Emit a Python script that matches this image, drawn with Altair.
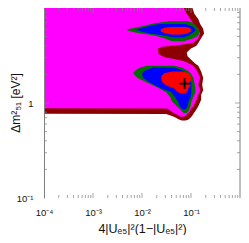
import altair as alt
import pandas as pd

# ---- contour regions: for each y level, left/right x bounds ----
# dark red (outermost)
dr_y = [10, 8.71, 7.60, 6.77, 6.04, 5.39, 4.81, 4.29, 4.00, 3.73, 3.41, 3.11, 2.84, 2.59,
        2.47, 2.15, 1.84, 1.56, 1.36, 1.22, 1.08, 0.923, 0.823, 0.77, 0.765, 0.718, 0.670, 0.655]
dr_xl = [1e-4] * 24 + [0.031, 0.045, 0.057, 0.065]
dr_xr = [0.107, 0.117, 0.141, 0.154, 0.177, 0.185, 0.161, 0.141, 0.129, 0.098, 0.082, 0.085,
         0.102, 0.123, 0.141, 0.161, 0.177, 0.169, 0.177, 0.161, 0.161, 0.141, 0.123, 0.112,
         0.112, 0.102, 0.089, 0.078]

# magenta
mg_y = [10, 8.71, 7.60, 6.77, 6.04, 5.39, 4.81, 4.29, 4.09, 3.91, 3.73, 3.25, 3.04, 2.90,
        2.77, 2.59, 2.47, 2.15, 1.84, 1.56, 1.36, 1.22, 1.08, 0.923, 0.881, 0.875, 0.804,
        0.752, 0.718]
mg_xl = [1e-4] * 25 + [0.033, 0.041, 0.052, 0.062]
mg_xr = [0.071, 0.082, 0.098, 0.112, 0.141, 0.154, 0.141, 0.112, 0.057, 0.026, 0.021, 0.022,
         0.029, 0.045, 0.071, 0.093, 0.112, 0.135, 0.154, 0.141, 0.154, 0.141, 0.129, 0.112,
         0.102, 0.102, 0.093, 0.082, 0.071]

# green islands
gu_y = [7.26, 6.93, 6.47, 6.04, 5.90, 5.77, 5.51, 5.14, 4.81, 4.48]
gu_xl = [0.036, 0.018, 0.0105, 0.0058, 0.0048, 0.0053, 0.0073, 0.018, 0.0285, 0.041]
gu_xr = [0.089, 0.112, 0.129, 0.141, 0.145, 0.147, 0.147, 0.141, 0.112, 0.071]
gl_y = [2.47, 2.36, 2.20, 2.06, 1.84, 1.64, 1.46, 1.30, 1.16, 1.035, 0.923, 0.823, 0.787]
gl_xl = [0.0126, 0.0091, 0.0073, 0.0066, 0.0080, 0.0126, 0.0207, 0.0313, 0.0375, 0.0411,
         0.0516, 0.0649, 0.071]
gl_xr = [0.045, 0.065, 0.085, 0.098, 0.112, 0.117, 0.123, 0.123, 0.112, 0.102, 0.098, 0.089,
         0.082]

# blue islands
bu_y = [6.77, 6.47, 6.18, 5.90, 5.64, 5.39, 5.14, 4.92]
bu_xl = [0.0227, 0.0144, 0.0105, 0.0073, 0.0100, 0.0144, 0.0285, 0.045]
bu_xr = [0.078, 0.102, 0.117, 0.123, 0.117, 0.102, 0.089, 0.071]
bl_y = [2.36, 2.20, 2.06, 1.84, 1.64, 1.46, 1.30, 1.16, 1.035, 0.923, 0.861]
bl_xl = [0.0165, 0.0115, 0.0100, 0.0105, 0.0144, 0.0227, 0.0393, 0.0471, 0.0541, 0.0592, 0.0679]
bl_xr = [0.045, 0.068, 0.082, 0.098, 0.102, 0.102, 0.102, 0.098, 0.089, 0.085, 0.078]

# red islands
ru_y = [6.32, 6.18, 5.90, 5.64, 5.39, 5.26]
ru_xl = [0.041, 0.0285, 0.0238, 0.0249, 0.0313, 0.041]
ru_xr = [0.078, 0.093, 0.102, 0.098, 0.082, 0.065]
rl_y = [2.15, 2.06, 1.92, 1.75, 1.64, 1.53, 1.43, 1.33, 1.27]
rl_xl = [0.041, 0.0285, 0.0249, 0.0249, 0.0261, 0.0313, 0.045, 0.0516, 0.0592]
rl_xr = [0.071, 0.089, 0.098, 0.102, 0.093, 0.098, 0.089, 0.085, 0.078]

# best fit point
best_x = [0.074]
best_y = [1.6]

# tick positions
minor_mult = [2, 3, 4, 5, 6, 7, 8, 9]
x_decades = [1e-4, 1e-3, 1e-2, 1e-1]
y_decades = [0.1, 1]
x_major = [1e-3, 1e-2, 1e-1]
y_major = [1]
x_label_values = [1e-4, 1e-3, 1e-2, 1e-1]
y_label_values = [0.1, 1]

Y_TITLE = "Δm²₅₁   [eV²]"
X_TITLE = "4|Uₑ₅|²(1−|Uₑ₅|²)"

regions = [
    ("darkred", "main", dr_y, dr_xl, dr_xr),
    ("magenta", "main", mg_y, mg_xl, mg_xr),
    ("green", "upper", gu_y, gu_xl, gu_xr),
    ("green", "lower", gl_y, gl_xl, gl_xr),
    ("blue", "upper", bu_y, bu_xl, bu_xr),
    ("blue", "lower", bl_y, bl_xl, bl_xr),
    ("red", "upper", ru_y, ru_xl, ru_xr),
    ("red", "lower", rl_y, rl_xl, rl_xr),
]
rows = []
for lvl, isl, ys, xls, xrs in regions:
    for yv, a, b in zip(ys, xls, xrs):
        rows.append({"level": lvl, "island": isl, "y": yv, "xl": a, "xr": b})
df = pd.DataFrame(rows)

W, H = 196, 190
PAD_L, PAD_R, PAD_T, PAD_B = 36, 1, 0, 37
GRAY = "#808080"
FONT = "Liberation Sans"

xscale = alt.Scale(type="log", domain=[1e-4, 1], nice=False)
yscale = alt.Scale(type="log", domain=[0.1, 10], nice=False)

xlabel_expr = ("datum.value < 0.0005 ? '10⁻⁴' : datum.value < 0.005 ? '10⁻³' : "
               "datum.value < 0.05 ? '10⁻²' : '10⁻¹'")
ylabel_expr = "datum.value < 0.5 ? '10⁻¹' : '1'"

x_axis = alt.Axis(orient="bottom", values=x_label_values, labelExpr=xlabel_expr, domain=False,
                  ticks=False, grid=False, labelFontSize=9.5, labelPadding=9, labelColor="#111",
                  labelFont=FONT, labelFlush=False,
                  title=X_TITLE, titleFont=FONT, titleFontSize=12.5,
                  titleFontWeight="normal", titleColor="#111", titleY=34,
                  titleBaseline="alphabetic", titleAlign="center", zindex=1)
y_axis = alt.Axis(orient="left", values=y_label_values, labelExpr=ylabel_expr, domain=True,
                  domainColor=GRAY, domainWidth=1, ticks=False, grid=False, labelFontSize=9.5,
                  labelPadding=11, labelColor="#111", labelFont=FONT, labelFlush=False,
                  title=None, zindex=1)

level_colors = [("darkred", "#8b0000"), ("magenta", "#ff00ff"), ("green", "#006e00"),
                ("blue", "#0000ff"), ("red", "#ff0000")]

layers = []
for i, (lvl, col) in enumerate(level_colors):
    layers.append(
        alt.Chart(df).transform_filter(alt.datum.level == lvl)
        .mark_area(orient="horizontal", color=col, clip=True)
        .encode(
            y=alt.Y("y:Q", scale=yscale, axis=None),
            x=alt.X("xl:Q", scale=xscale, axis=None),
            x2="xr:Q",
            detail="island:N",
        )
    )

# best-fit cross
layers.append(
    alt.Chart(pd.DataFrame({"x": best_x, "y": best_y}))
    .mark_point(shape="M-1,0L1,0M0,-1L0,1", size=110, filled=False, stroke="black",
                strokeWidth=1.8, opacity=1)
    .encode(x=alt.X("x:Q", scale=xscale, axis=None), y=alt.Y("y:Q", scale=yscale, axis=None))
)

# inward tick marks
x_minor = [m * d for d in x_decades for m in minor_mult]
y_minor = [m * d for d in y_decades for m in minor_mult]
tick_sets = [
    (x_minor, "x", 3), (x_major, "x", 5),
    (y_minor, "y", 3), (y_major, "y", 5),
]
for vals, ch, sz in tick_sets:
    tdf = pd.DataFrame({"v": vals})
    if ch == "x":
        for ypos in (sz / 2, H - sz / 2):
            layers.append(
                alt.Chart(tdf).mark_tick(orient="vertical", size=sz, thickness=1, color=GRAY)
                .encode(x=alt.X("v:Q", scale=xscale, axis=None), y=alt.value(ypos))
            )
    else:
        for xpos in (sz / 2, W - sz / 2):
            layers.append(
                alt.Chart(tdf).mark_tick(orient="horizontal", size=sz, thickness=1, color=GRAY)
                .encode(y=alt.Y("v:Q", scale=yscale, axis=None), x=alt.value(xpos))
            )

# right frame line
layers.append(
    alt.Chart(pd.DataFrame({"a": [0]})).mark_rule(color=GRAY, strokeWidth=1)
    .encode(x=alt.value(W), y=alt.value(0), y2=alt.value(H))
)

# y-axis title as a rotated text mark
layers.append(
    alt.Chart(pd.DataFrame({"t": [Y_TITLE]}))
    .mark_text(angle=270, align="center", baseline="bottom", font=FONT, fontSize=12,
               color="#111")
    .encode(text="t:N", x=alt.value(-21), y=alt.value(H / 2))
)

# axes layer (drawn on top)
axis_df = pd.DataFrame({"xa": [1e-4, 1], "ya": [0.1, 10]})
layers.append(
    alt.Chart(axis_df).mark_point(opacity=0, size=1)
    .encode(x=alt.X("xa:Q", scale=xscale, axis=x_axis),
            y=alt.Y("ya:Q", scale=yscale, axis=y_axis))
)

chart = alt.layer(*layers).resolve_axis(x="independent", y="independent").properties(
    width=W, height=H,
    autosize=alt.AutoSizeParams(type="none"),
    padding={"left": PAD_L, "top": PAD_T, "right": PAD_R, "bottom": PAD_B},
).configure_view(stroke=None)

chart.save("out.html", embed_options={"renderer": "svg", "actions": False})
